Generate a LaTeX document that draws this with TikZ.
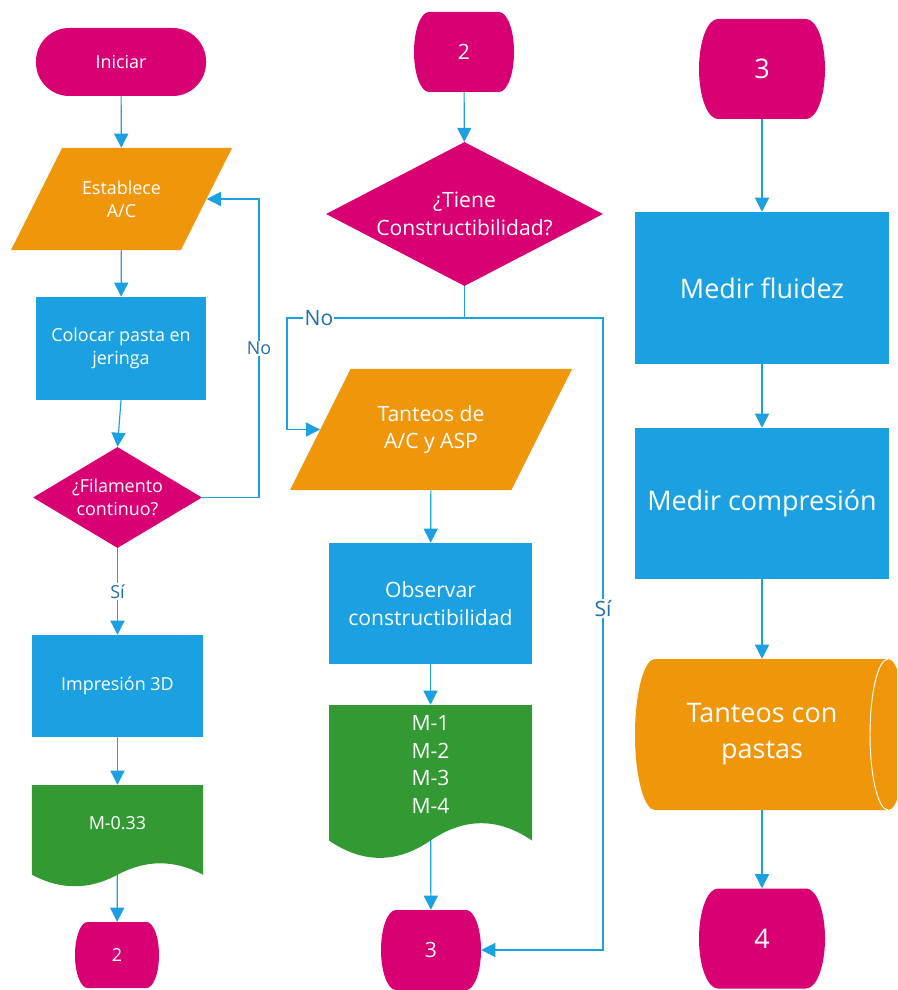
\documentclass[tikz,border=0pt]{standalone}
\usepackage{fontspec}
\setmainfont{Open Sans}
\usetikzlibrary{arrows.meta,positioning,shapes.geometric,calc,backgrounds}

\definecolor{rosa}{RGB}{216,0,115}
\definecolor{naranja}{RGB}{240,150,10}
\definecolor{azul}{RGB}{27,161,226}
\definecolor{verde}{RGB}{51,153,51}
\definecolor{azulosc}{RGB}{30,113,170}

\newcommand{\letraA}{\fontsize{15.3}{19.6}\selectfont}
\newcommand{\letraB}{\fontsize{18}{23.8}\selectfont}
\newcommand{\letraC}{\fontsize{23}{30.7}\selectfont}
% text block of fixed height (keeps the slant of the data boxes)
\newcommand{\bloque}[3]{\parbox[c][#1][c]{#2}{\centering #3}}

\begin{document}
\begin{tikzpicture}[
  x=0.03cm, y=-0.03cm,
  every node/.style={text=white, align=center, inner sep=2pt},
  terminal/.style={fill=rosa, rounded corners=1cm},
  proceso/.style={fill=azul},
  datos/.style={trapezium, trapezium left angle=63.4,
                trapezium right angle=116.6, trapezium stretches body,
                inner sep=0pt, fill=naranja},
  decision/.style={diamond, fill=rosa, inner sep=0pt},
  documento/.style={path picture={
    \fill[verde] let \p1=(path picture bounding box.south west),
                     \p2=(path picture bounding box.north east),
                     \n1={\x2-\x1}, \n2={0.12*(\y2-\y1)}, \n3={0.15*(\y2-\y1)} in
      (\x1,\y2) -- (\x2,\y2) -- (\x2,\y1+\n2)
      .. controls (\x2-0.167*\n1,\y1+\n2+\n3) and (\x2-0.333*\n1,\y1+\n2+\n3) .. (\x1+0.5*\n1,\y1+\n2)
      .. controls (\x1+0.333*\n1,\y1+\n2-\n3) and (\x1+0.167*\n1,\y1+\n2-\n3) .. (\x1,\y1+\n2) -- cycle;
  }},
  conector/.style={inner sep=0pt, path picture={
    \fill[rosa] let \p1=(path picture bounding box.south west),
                    \p2=(path picture bounding box.north east),
                    \n1={0.15*(\x2-\x1)}, \n2={(\y2-\y1)/2} in
      (\x1+\n1,\y2) -- (\x2-\n1,\y2)
      arc[start angle=90, end angle=-90, x radius=\n1, y radius=\n2]
      -- (\x1+\n1,\y1)
      arc[start angle=270, end angle=90, x radius=\n1, y radius=\n2] -- cycle;
  }},
  cilindro/.style={path picture={
    \fill[naranja] let \p1=(path picture bounding box.south west),
                       \p2=(path picture bounding box.north east),
                       \n2={(\y2-\y1)/2} in
      (\x1+0.6cm,\y2) -- (\x1+7.59cm,\y2)
      arc[start angle=90, end angle=-90, x radius=0.54cm, y radius=\n2]
      -- (\x1+0.6cm,\y1)
      arc[start angle=270, end angle=90, x radius=0.6cm, y radius=\n2] -- cycle;
    \draw[white, line width=0.8pt] let \p1=(path picture bounding box.south west),
                       \p2=(path picture bounding box.north east),
                       \n2={(\y2-\y1)/2} in
      (\x1+7.59cm,\y2)
      arc[start angle=90, end angle=270, x radius=0.54cm, y radius=\n2];
  }},
  flecha/.style={draw=azul, line width=1pt, -{Triangle[length=12pt,width=12pt]}},
  linea/.style={draw=azul, line width=1pt},
  etiq/.style={fill=white, text=azulosc, inner sep=1pt, font=#1}
]
\useasboundingbox (0,0) rectangle (897,990);

%% ---- Left column ----------------------------------------------------
\begin{scope}[font=\letraA]
  \node[terminal, minimum width=5.1cm, minimum height=2.04cm] (ini) at (121,62) {Iniciar};
  \node[datos, minimum width=6.63cm] (est) at (121.5,199) {\bloque{3.06cm}{3cm}{Establece\\A/C}};
  \node[proceso, minimum width=5.1cm, minimum height=3.09cm] (col) at (121,348.5) {Colocar pasta en\\jeringa};
  \node[decision, minimum width=5.07cm, minimum height=3.03cm,
        label=center:{¿Filamento\\continuo?}] (fil) at (117.5,497.5) {};
  \node[proceso, minimum width=5.13cm, minimum height=3.06cm] (imp) at (117.5,686) {Impresión 3D};
  \node[documento, minimum width=5.13cm, minimum height=3.06cm,
        label={[yshift=0.39cm]center:M-0.33}] (m033) at (117.5,836) {};
  \node[conector, minimum width=2.52cm, minimum height=1.98cm] (c2a) at (117,955) {2};
  \coordinate (codo) at (259,0);
\end{scope}

%% ---- Middle column --------------------------------------------------
\begin{scope}[font=\letraB]
  \node[conector, minimum width=3cm, minimum height=2.4cm] (c2b) at (464,52) {2};
  \node[decision, minimum width=8.31cm, minimum height=4.32cm,
        label=center:{¿Tiene\\Constructibilidad?}] (cons) at (464.5,214) {};
  \node[datos, minimum width=8.46cm] (tan) at (431,429.5) {\bloque{3.63cm}{4.5cm}{Tanteos de\\A/C y ASP}};
  \node[proceso, minimum width=6.09cm, minimum height=3.63cm] (obs) at (430.5,603.5) {Observar\\constructibilidad};
  \node[documento, minimum width=6.09cm, minimum height=4.62cm,
        label={[yshift=0.525cm]center:M-1\\M-2\\M-3\\M-4}] (mms) at (430.5,782) {};
  \node[conector, minimum width=3cm, minimum height=2.4cm] (c3a) at (431,950) {3};
  \coordinate (ramal) at (464.5,318);
  \coordinate (izq) at (287,318);
  \coordinate (der) at (603,318);
\end{scope}

%% ---- Right column ---------------------------------------------------
\begin{scope}[font=\letraC]
  \node[conector, minimum width=3.78cm, minimum height=3cm] (c3b) at (762,69) {3};
  \node[proceso, minimum width=7.62cm, minimum height=4.56cm] (flu) at (762,288) {Medir fluidez};
  \node[proceso, minimum width=7.62cm, minimum height=4.53cm] (cmp) at (762,503.5) {Medir compresión};
  \node[cilindro, minimum width=7.86cm, minimum height=4.53cm,
        label={[xshift=-0.12cm]center:Tanteos con\\pastas}] (cyl) at (766,734.5) {};
  \node[conector, minimum width=3.78cm, minimum height=3cm] (c4) at (762,938.5) {4};
\end{scope}

%% ---- Connectors (behind the shapes) ---------------------------------
\begin{scope}[on background layer]
  \fill[white] (0,0) rectangle (897,990);
  % left
  \draw[flecha] (ini) -- (est);
  \draw[flecha] (est) -- (col);
  \draw[flecha] (col.south) -- (fil.north);
  \draw[flecha] (fil) -- node[etiq=\letraA]{Sí} (imp);
  \draw[flecha] (fil.east) -- (fil.east -| codo)
                |- node[etiq=\letraA, pos=0.25]{No} (est.right side);
  \draw[flecha] (imp) -- (m033);
  \draw[flecha] (m033.center) -- (c2a);
  % middle
  \draw[flecha] (c2b) -- (cons);
  \draw[linea] (cons.south) -- (ramal);
  \draw[flecha] (ramal) -- node[etiq=\letraB, pos=0.82]{No} (izq) |- (tan.left side);
  \draw[flecha] (ramal) -- (der) |- node[etiq=\letraB, pos=0.23]{Sí} (c3a.east);
  \draw[flecha] (tan) -- (obs);
  \draw[flecha] (obs) -- (mms);
  \draw[flecha] (mms.center) -- (c3a);
  % right
  \draw[flecha] (c3b) -- (flu);
  \draw[flecha] (flu) -- (cmp);
  \draw[flecha] (cmp.south) -- (cmp.south |- cyl.north);
  \draw[flecha] (c4 |- cyl.south) -- (c4);
\end{scope}

\end{tikzpicture}
\end{document}
